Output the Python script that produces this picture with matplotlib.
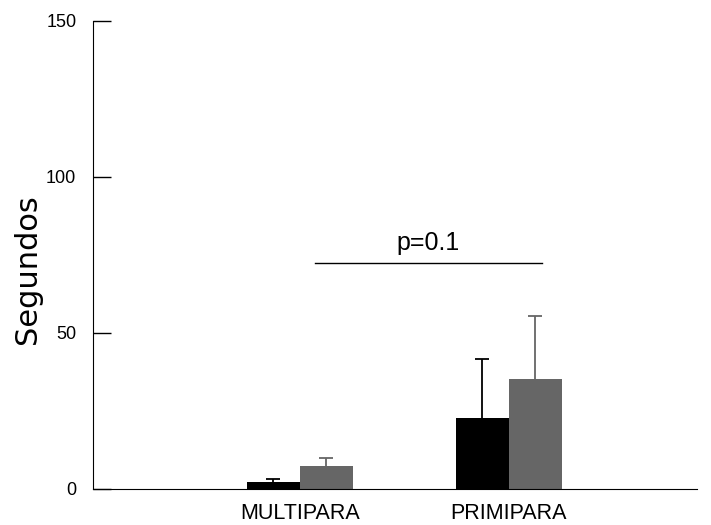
import matplotlib
matplotlib.use("Agg")
import matplotlib.pyplot as plt
import numpy as np

plt.rcParams['font.family'] = ['Liberation Sans', 'DejaVu Sans']

grupos = ["MULTIPARA", "PRIMIPARA"]
media_negro = [2.2, 22.8]
err_negro = [1.0, 18.9]
media_gris = [7.4, 35.3]
err_gris = [2.6, 20.1]
p_texto = "p=0.1"
p_altura = 72.4

fig = plt.figure(figsize=(7.11, 5.25), dpi=100)
ax = fig.add_axes([0.1308, 0.0686, 0.8495, 0.8914])

x = np.array([1.0, 2.0])
w = 0.254
ax.bar(x - w/2, media_negro, w, color="black", zorder=2)
ax.bar(x + w/2, media_gris, w, color="#666666", zorder=2)

# solo la mitad superior del error, sin tapa inferior
for pos, med, err, col in [(x - w/2, media_negro, err_negro, "black"),
                           (x + w/2, media_gris, err_gris, "#666666")]:
    eb = ax.errorbar(pos, med, yerr=[np.zeros(2), err], fmt="none",
                     ecolor=col, elinewidth=1.3, capsize=5, capthick=1.3, zorder=1)
    eb.lines[1][0].set_visible(False)

# linea de comparacion
x0, x1 = x[0] + 0.07, x[1] + 0.16
ax.plot([x0, x1], [p_altura, p_altura], color="black", lw=1)
ax.text((x0 + x1) / 2, p_altura + 2.5, p_texto, ha="center",
        va="bottom", fontsize=18)

ax.set_xlim(0.01, 2.9)
ax.set_ylim(0, 150)
ax.set_yticks([0, 50, 100, 150])
ax.set_xticks(x)
ax.set_xticklabels(grupos, fontsize=15.5)
ax.tick_params(axis="x", length=0, pad=10)
ax.tick_params(axis="y", direction="in", length=13, width=1, labelsize=13, pad=12)
ax.spines["top"].set_visible(False)
ax.spines["right"].set_visible(False)
ax.set_ylabel("Segundos", fontsize=22, family="DejaVu Sans")
ax.yaxis.set_label_coords(-0.085, 0.47)

fig.savefig("out.png", dpi=100)
